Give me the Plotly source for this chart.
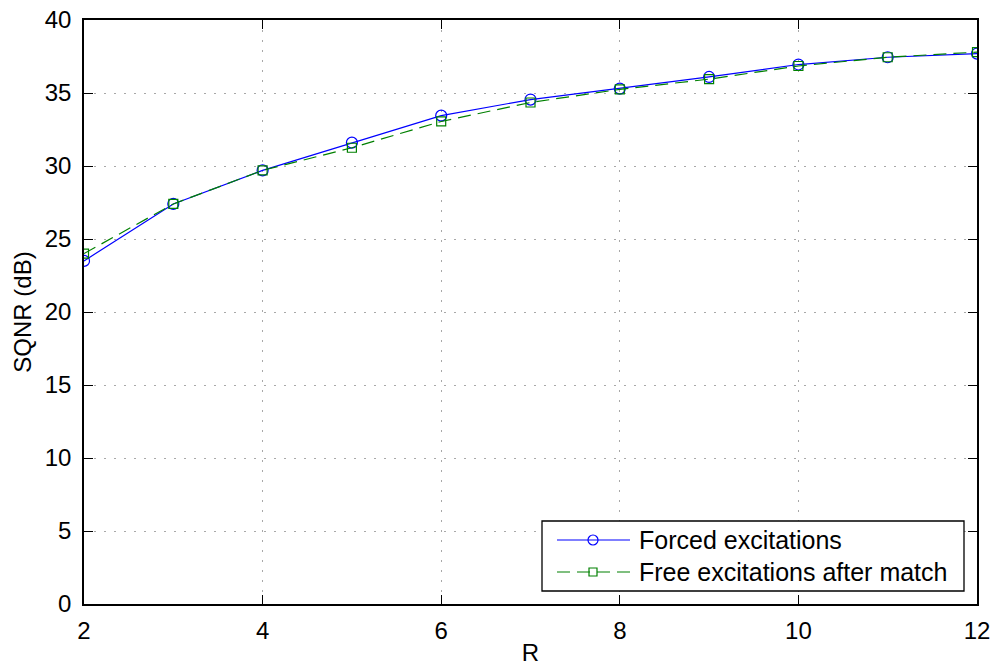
import plotly.graph_objects as go

# SQNR versus R for the two excitation schemes
r_values = [2, 3, 4, 5, 6, 7, 8, 9, 10, 11, 12]
forced_sqnr = [23.5, 27.4, 29.7, 31.6, 33.45, 34.55, 35.3, 36.1, 36.95, 37.45, 37.7]
free_sqnr = [24.0, 27.4, 29.7, 31.25, 33.05, 34.35, 35.25, 35.95, 36.85, 37.45, 37.8]

series_names = ["Forced excitations", "Free excitations after match"]
x_ticks = [2, 4, 6, 8, 10, 12]
y_ticks = [0, 5, 10, 15, 20, 25, 30, 35, 40]

FONT = "Liberation Sans, Arial, Helvetica, sans-serif"
FS = 24
BLUE = "#0000ff"
GREEN = "#008000"
GREEN_DASH = "13px,7px"

W, H = 993, 666
L, R, T, B = 84, 16, 20, 62
PW, PH = W - L - R, H - T - B


def px(x):
    """Horizontal pixel -> paper coordinate."""
    return (x - L) / PW


def py(y):
    """Vertical pixel (from top) -> paper coordinate."""
    return (H - B - y) / PH


fig = go.Figure()
fig.add_trace(go.Scatter(
    x=r_values, y=forced_sqnr, mode="lines+markers", name=series_names[0],
    line=dict(color=BLUE, width=1.2),
    marker=dict(symbol="circle-open", size=11, color=BLUE,
                line=dict(width=1.2, color=BLUE)),
    showlegend=False,
))
fig.add_trace(go.Scatter(
    x=r_values, y=free_sqnr, mode="lines+markers", name=series_names[1],
    line=dict(color=GREEN, width=1.2, dash=GREEN_DASH),
    marker=dict(symbol="square-open", size=9, color=GREEN,
                line=dict(width=1.2, color=GREEN)),
    showlegend=False,
))

axis_common = dict(
    showline=True, linecolor="black", linewidth=1.6, mirror="ticks",
    ticks="inside", ticklen=9, tickwidth=1, tickcolor="black",
    showgrid=True, gridcolor="#a8a8a8", gridwidth=1, griddash="2px,8px",
    zeroline=False, automargin=False,
    tickfont=dict(family=FONT, size=FS, color="black"),
)

fig.update_xaxes(range=[2, 12], tickvals=x_ticks,
                 title=dict(text="R", font=dict(family=FONT, size=FS, color="black"),
                            standoff=6),
                 ticklabelstandoff=4, **axis_common)
fig.update_yaxes(range=[0, 40], tickvals=y_ticks,
                 title=dict(text="SQNR (dB)", font=dict(family=FONT, size=FS, color="black"),
                            standoff=6),
                 ticklabelstandoff=6, **axis_common)

# Legend box with long line samples
shapes = [dict(type="rect", xref="paper", yref="paper",
               x0=px(542), x1=px(964), y0=py(591), y1=py(521),
               line=dict(color="black", width=1.3), fillcolor="white", layer="above")]
annotations = []
rows = [(540, BLUE, "solid", "circle"), (572, GREEN, GREEN_DASH, "square")]
for (row_y, color, dash, sym), label in zip(rows, series_names):
    shapes.append(dict(type="line", xref="paper", yref="paper",
                       x0=px(557), x1=px(630), y0=py(row_y), y1=py(row_y),
                       line=dict(color=color, width=1.2, dash=dash), layer="above"))
    half = 5 if sym == "circle" else 4
    shapes.append(dict(type="circle" if sym == "circle" else "rect",
                       xref="paper", yref="paper",
                       xsizemode="pixel", ysizemode="pixel",
                       xanchor=px(593), yanchor=py(row_y),
                       x0=-half, x1=half, y0=-half, y1=half,
                       line=dict(color=color, width=1.2), fillcolor="rgba(0,0,0,0)",
                       layer="above"))
    annotations.append(dict(xref="paper", yref="paper", x=px(637), y=py(row_y),
                            xanchor="left", yanchor="middle", showarrow=False,
                            text=label, font=dict(family=FONT, size=25, color="black")))

fig.update_layout(
    width=W, height=H,
    margin=dict(l=L, r=R, t=T, b=B),
    paper_bgcolor="white", plot_bgcolor="white",
    font=dict(family=FONT, size=FS, color="black"),
    showlegend=False,
    shapes=shapes,
    annotations=annotations,
)

fig.write_html("out.html")
